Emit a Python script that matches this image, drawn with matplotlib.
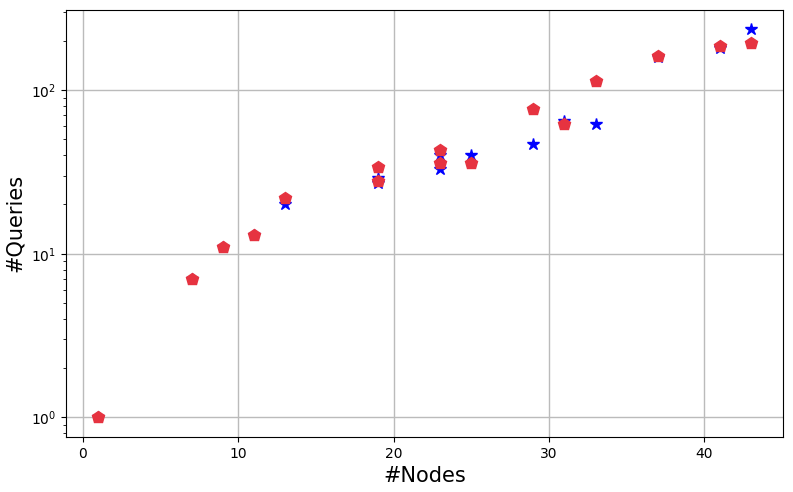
import matplotlib
matplotlib.use('Agg')
import matplotlib.pyplot as plt

# (#Nodes, #Queries)
nodes_a = [1, 7, 9, 11, 13, 19, 19, 23, 23, 25, 29, 31, 33, 37, 41, 43]
queries_a = [1, 7, 11, 13, 20, 29, 27, 40, 33, 40, 47, 65, 62, 160, 180, 235]

nodes_b = [1, 7, 9, 11, 13, 19, 19, 23, 23, 25, 29, 31, 33, 37, 41, 43]
queries_b = [1, 7, 11, 13, 22, 34, 28, 43, 36, 36, 77, 62, 114, 161, 185, 193]

fig, ax = plt.subplots(figsize=(7.93, 4.92), dpi=100)
fig.subplots_adjust(left=0.083, right=0.988, top=0.98, bottom=0.112)

ax.plot(nodes_a, queries_a, '*', color='blue', markersize=9, linestyle='none')
ax.plot(nodes_b, queries_b, 'p', color='#e63340', markersize=9, linestyle='none')

ax.set_yscale('log')
ax.grid(True, which='major', color='#bbbbbb', linewidth=1)
ax.set_axisbelow(True)
ax.set_xlabel('#Nodes', fontsize=15)
ax.set_ylabel('#Queries', fontsize=15)

fig.savefig('out.png', dpi=100)
